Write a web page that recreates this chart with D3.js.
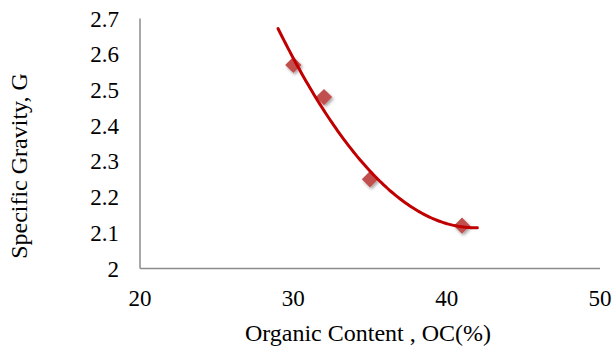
<!DOCTYPE html>
<html>
<head>
<meta charset="utf-8">
<script src="https://cdn.jsdelivr.net/npm/d3@7"></script>
<style>
  body { margin: 0; background: #fff; }
  text { font-family: "Liberation Serif", "Times New Roman", serif; fill: #000; }
</style>
</head>
<body>
<div id="chart"></div>
<script>
// data
var organicContent = [30, 32, 35, 41];
var specificGravity = [2.57, 2.48, 2.25, 2.12];
var xTicks = [20, 30, 40, 50];
var yTicks = [2, 2.1, 2.2, 2.3, 2.4, 2.5, 2.6, 2.7];
var trendRange = [29, 42];

var svg = d3.select("#chart")
            .append("svg")
            .attr("width", 614)
            .attr("height", 347);

var x = d3.scaleLinear().domain([20, 50]).range([140, 600]),
    y = d3.scaleLinear().domain([2, 2.7]).range([268.5, 18.5]);

// axis lines (no tick marks)
svg.append("line")
    .attr("x1", x(20)).attr("x2", x(20))
    .attr("y1", y(2.7)).attr("y2", y(2))
    .attr("stroke", "#8c8c8c").attr("stroke-width", 1.5);
svg.append("line")
    .attr("x1", x(20)).attr("x2", x(50))
    .attr("y1", y(2)).attr("y2", y(2))
    .attr("stroke", "#8c8c8c").attr("stroke-width", 1.5);

svg.selectAll(".ytick")
  .data(yTicks)
  .enter().append("text")
    .attr("class", "ytick")
    .attr("x", 119)
    .attr("y", function(d) { return y(d); })
    .attr("dy", "0.35em")
    .attr("text-anchor", "end")
    .style("font-size", "23px")
    .text(function(d) { return d3.format("")(+d.toFixed(1)); });

svg.selectAll(".xtick")
  .data(xTicks)
  .enter().append("text")
    .attr("class", "xtick")
    .attr("x", function(d) { return x(d); })
    .attr("y", 306)
    .attr("text-anchor", "middle")
    .style("font-size", "23px")
    .text(function(d) { return d; });

svg.append("text")
    .attr("x", 368)
    .attr("y", 341)
    .attr("text-anchor", "middle")
    .style("font-size", "24px")
    .text("Organic Content , OC(%)");

svg.append("text")
    .attr("transform", "translate(26.5,166) rotate(-90)")
    .attr("text-anchor", "middle")
    .style("font-size", "24px")
    .text("Specific Gravity, G");

// marker shadow
var defs = svg.append("defs");
var f = defs.append("filter").attr("id", "shadow")
    .attr("x", "-50%").attr("y", "-50%").attr("width", "200%").attr("height", "200%");
f.append("feDropShadow")
    .attr("dx", 1.5).attr("dy", 2).attr("stdDeviation", 1.5)
    .attr("flood-color", "#000").attr("flood-opacity", 0.35);

var pts = organicContent.map(function(d, i) { return {x: d, y: specificGravity[i]}; });

svg.selectAll(".pt")
  .data(pts)
  .enter().append("path")
    .attr("class", "pt")
    .attr("d", d3.symbol().type(d3.symbolDiamond2).size(170))
    .attr("transform", function(d) { return "translate(" + x(d.x) + "," + y(d.y) + ")"; })
    .attr("fill", "#c0504d")
    .attr("filter", "url(#shadow)");

// polynomial (order 2) least squares trend line
function quadFit(xs, ys) {
  var S = [0, 0, 0, 0, 0], T = [0, 0, 0];
  xs.forEach(function(xv, i) {
    for (var k = 0; k < 5; k++) S[k] += Math.pow(xv, k);
    for (var k = 0; k < 3; k++) T[k] += Math.pow(xv, k) * ys[i];
  });
  var A = [[S[0], S[1], S[2], T[0]], [S[1], S[2], S[3], T[1]], [S[2], S[3], S[4], T[2]]];
  for (var i = 0; i < 3; i++) {
    for (var j = i + 1; j < 3; j++) {
      var r = A[j][i] / A[i][i];
      for (var k = i; k < 4; k++) A[j][k] -= r * A[i][k];
    }
  }
  var c = [0, 0, 0];
  for (var i = 2; i >= 0; i--) {
    var s = A[i][3];
    for (var k = i + 1; k < 3; k++) s -= A[i][k] * c[k];
    c[i] = s / A[i][i];
  }
  return c;
}
var coef = quadFit(organicContent, specificGravity);
var trend = d3.range(0, 101).map(function(i) {
  var xv = trendRange[0] + (trendRange[1] - trendRange[0]) * i / 100;
  return {x: xv, y: coef[0] + coef[1] * xv + coef[2] * xv * xv};
});

var line = d3.line()
    .x(function(d) { return x(d.x); })
    .y(function(d) { return y(d.y); });

svg.append("path")
    .datum(trend)
    .attr("d", line)
    .attr("fill", "none")
    .attr("stroke", "#c00000")
    .attr("stroke-width", 3)
    .attr("stroke-linecap", "round");
</script>
</body>
</html>
